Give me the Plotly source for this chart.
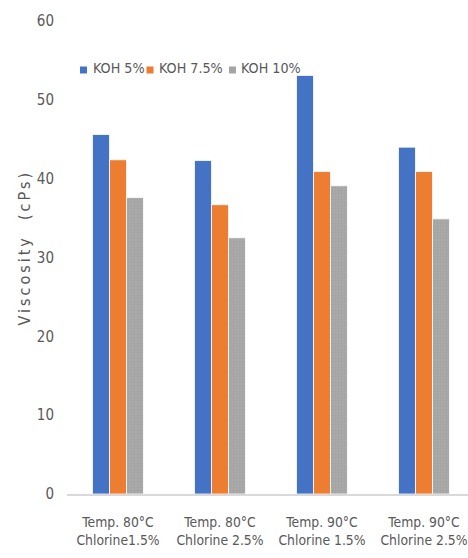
import plotly.graph_objects as go

# Viscosity of the product under four process conditions, one series per KOH level
categories = [
    "Temp. 80°C<br>Chlorine1.5%",
    "Temp. 80°C<br>Chlorine 2.5%",
    "Temp. 90°C<br>Chlorine 1.5%",
    "Temp. 90°C<br>Chlorine 2.5%",
]
series_names = ["KOH 5%", "KOH 7.5%", "KOH 10%"]
koh_5 = [45.6, 42.3, 53.1, 44.0]
koh_7_5 = [42.4, 36.7, 40.9, 40.9]
koh_10 = [37.6, 32.5, 39.1, 34.9]
y_ticks = [0, 10, 20, 30, 40, 50, 60]

colors = ["#4472C4", "#ED7D31", "#A5A5A5"]
FONT = "DejaVu Sans Condensed, DejaVu Sans, sans-serif"
TEXT_COLOR = "#595959"

W, H = 468, 558
M_L, M_R, M_T, M_B = 67, 0, 21, 64
PLOT_W = W - M_L - M_R
PLOT_H = H - M_T - M_B
CAT_PX = 102  # pixel width of one category slot


def px_x(x):
    return (x - M_L) / PLOT_W


def px_y(y):
    return (H - M_B - y) / PLOT_H


fig = go.Figure()
for name, vals, col in zip(series_names, [koh_5, koh_7_5, koh_10], colors):
    marker = dict(color=col, line=dict(color="white", width=0.8))
    if name == "KOH 10%":
        marker["pattern"] = dict(shape=".", fgcolor="#9a9a9a", bgcolor="#a9a9a9",
                                 size=3, solidity=0.35)
    fig.add_trace(go.Bar(x=list(range(len(categories))), y=vals, name=name,
                         marker=marker, showlegend=False))

# legend row: small swatches followed by the series names
legend_x = [80, 146.5, 229]
text_x = [90.5, 157, 239]
for name, col, sx, tx in zip(series_names, colors, legend_x, text_x):
    fig.add_shape(type="rect", xref="paper", yref="paper",
                  x0=px_x(sx), x1=px_x(sx + 7), y0=px_y(73.5), y1=px_y(66.5),
                  fillcolor=col, line=dict(width=0))
    fig.add_annotation(text=name, xref="paper", yref="paper",
                       x=px_x(tx), y=px_y(68), xanchor="left", yanchor="middle",
                       showarrow=False, font=dict(family=FONT, size=14.2, color=TEXT_COLOR))

# y-axis title, letter-spaced
fig.add_annotation(
    text="<span style='letter-spacing:3px'>Viscosity\u00a0\u00a0(cPs)</span>",
    xref="paper", yref="paper", x=px_x(24), y=px_y(247.5),
    xanchor="center", yanchor="middle", textangle=-90, showarrow=False,
    font=dict(family=FONT, size=16, color=TEXT_COLOR),
)

fig.update_layout(
    width=W, height=H,
    margin=dict(l=M_L, r=M_R, t=M_T, b=M_B, pad=0, autoexpand=False),
    paper_bgcolor="white", plot_bgcolor="white",
    barmode="group", bargap=0.5, bargroupgap=0,
    font=dict(family=FONT, color=TEXT_COLOR),
)
fig.update_xaxes(
    tickmode="array", tickvals=list(range(len(categories))), ticktext=categories,
    range=[-0.5, -0.5 + PLOT_W / CAT_PX], showgrid=False, zeroline=False,
    showline=True, linecolor="#d9d9d9", linewidth=2, ticks="",
    tickangle=0, automargin=False, ticklabeloverflow="allow",
    tickfont=dict(family=FONT, size=13.8, color=TEXT_COLOR), ticklabelstandoff=14,
)
fig.update_yaxes(
    range=[0, 60], tickvals=y_ticks, showgrid=False, zeroline=False,
    showline=False, ticks="", ticklabelstandoff=12, automargin=False,
    tickfont=dict(family=FONT, size=15, color=TEXT_COLOR),
)

fig.write_html("out.html")
